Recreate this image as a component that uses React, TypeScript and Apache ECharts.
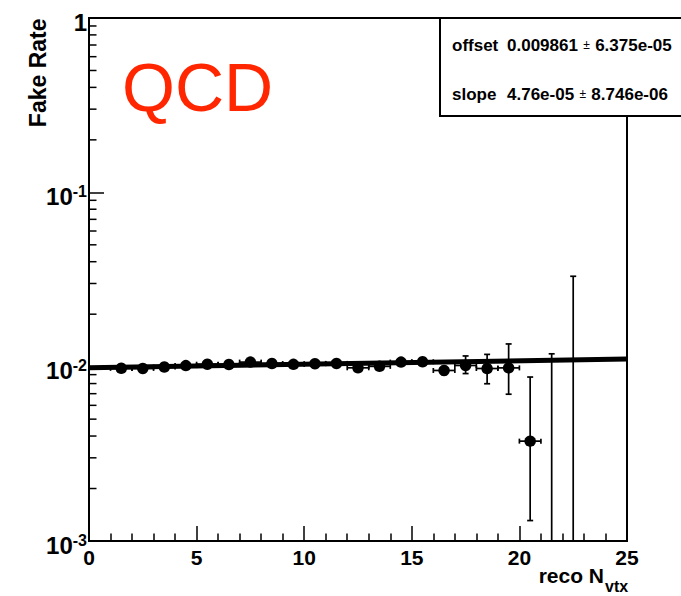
import React, { useEffect, useRef } from "react";
import * as echarts from "echarts";

// ---- data ----
const binCenters = [1.5, 2.5, 3.5, 4.5, 5.5, 6.5, 7.5, 8.5, 9.5, 10.5, 11.5, 12.5, 13.5, 14.5, 15.5, 16.5, 17.5, 18.5, 19.5, 20.5, 21.5, 22.5];
const fakeRate = [0.00978, 0.00977, 0.00995, 0.01014, 0.01033, 0.01028, 0.01062, 0.01042, 0.01031, 0.0104, 0.01044, 0.00985, 0.01004, 0.01062, 0.01067, 0.00951, 0.01016, 0.00976, 0.00984, 0.00374, 0, 0];
const errDown = [0.0002, 0.0002, 0.0002, 0.0002, 0.0002, 0.0002, 0.00025, 0.00025, 0.00025, 0.0003, 0.0003, 0.0003, 0.00035, 0.0004, 0.00045, 0.0005, 0.00103, 0.00178, 0.00289, 0.00243, 0, 0];
const errUp = [0.0002, 0.0002, 0.0002, 0.0002, 0.0002, 0.0002, 0.00025, 0.00025, 0.00025, 0.0003, 0.0003, 0.0003, 0.00035, 0.0004, 0.00045, 0.0005, 0.00136, 0.002, 0.00366, 0.00498, 0.01185, 0.033];
const binHalfWidth = [0.5, 0.5, 0.5, 0.5, 0.5, 0.5, 0.5, 0.5, 0.5, 0.5, 0.5, 0.5, 0.5, 0.5, 0.5, 0.5, 0.5, 0.5, 0.5, 0.5, 0.5, 0.5];

const fitX = [0, 25];
const fitY = [0.009861, 0.011051];

const statNames = ["offset", "slope"];
const statValues = ["0.009861", "4.76e-05"];
const statErrors = ["6.375e-05", "8.746e-06"];

const yDecades = [0.001, 0.01, 0.1];
const yMinorMultipliers = [2, 3, 4, 5, 6, 7, 8, 9];

const FONT = "'Liberation Sans', Arial, Helvetica, sans-serif";

export default function App() {
  const ref = useRef<HTMLDivElement>(null);

  useEffect(() => {
    document.body.style.margin = "0";
    const chart = echarts.init(ref.current!, null, { renderer: "svg" });

    const Y_MIN = 0.001;
    const errData = binCenters.map((x, i) => [
      x,
      fakeRate[i],
      fakeRate[i] - errDown[i],
      fakeRate[i] + errUp[i],
      binHalfWidth[i],
    ]);
    const pointData = binCenters
      .map((x, i) => [x, fakeRate[i]])
      .filter((p) => p[1] > 0);
    const minorData: number[][] = [];
    yDecades.forEach((d) => yMinorMultipliers.forEach((m) => minorData.push([0, d * m])));

    const black = "#000";
    const option: any = {
      animation: false,
      backgroundColor: "#fff",
      textStyle: { fontFamily: FONT },
      grid: {
        left: 89,
        right: 54,
        top: 18,
        bottom: 55,
        show: true,
        borderColor: black,
        borderWidth: 2,
        backgroundColor: "transparent",
      },
      xAxis: {
        type: "value",
        min: 0,
        max: 25,
        interval: 5,
        axisLine: { show: true, onZero: false, lineStyle: { color: black, width: 2 } },
        axisTick: { show: true, inside: true, length: 15, lineStyle: { color: black, width: 1.5 } },
        minorTick: { show: true, splitNumber: 5, length: 7.5, lineStyle: { color: black, width: 1.5 } },
        axisLabel: { margin: 6, fontSize: 21, fontWeight: "bold", color: black, fontFamily: FONT },
        splitLine: { show: false },
        minorSplitLine: { show: false },
      },
      yAxis: {
        type: "log",
        logBase: 10,
        min: 0.001,
        max: 1,
        axisLine: { show: true, onZero: false, lineStyle: { color: black, width: 2 } },
        axisTick: { show: true, inside: true, length: 15, lineStyle: { color: black, width: 1.5 } },
        axisLabel: {
          margin: 2,
          color: black,
          padding: [8, 0, 0, 0],
          formatter: (v: number) => {
            const e = Math.round(Math.log10(v));
            if (e === 0) return "{b|1}";
            return "{b|10}{s|" + e + "}";
          },
          rich: {
            b: { fontSize: 24, fontWeight: "bold", lineHeight: 26, fontFamily: FONT, color: black },
            s: { fontSize: 16, fontWeight: "bold", lineHeight: 16, verticalAlign: "top", fontFamily: FONT, color: black },
          },
        },
        splitLine: { show: false },
      },
      series: [
        {
          type: "custom",
          name: "yMinorTicks",
          silent: true,
          data: minorData,
          z: 5,
          renderItem: (_p: any, api: any) => {
            const pt = api.coord([api.value(0), api.value(1)]);
            return {
              type: "line",
              shape: { x1: pt[0], y1: pt[1], x2: pt[0] + 7.5, y2: pt[1] },
              style: { stroke: black, lineWidth: 1.5 },
            };
          },
        },
        {
          type: "custom",
          name: "errors",
          silent: true,
          data: errData,
          z: 2,
          renderItem: (_p: any, api: any) => {
            const x = api.value(0);
            const y = api.value(1);
            const lo = api.value(2);
            const hi = api.value(3);
            const xe = api.value(4);
            const st = { stroke: black, lineWidth: 1.7 };
            const children: any[] = [];
            const top = api.coord([x, hi]);
            const loClamped = lo > Y_MIN ? lo : Y_MIN;
            const bot = api.coord([x, loClamped]);
            children.push({ type: "line", shape: { x1: top[0], y1: top[1], x2: bot[0], y2: bot[1] }, style: st });
            children.push({ type: "line", shape: { x1: top[0] - 3, y1: top[1], x2: top[0] + 3, y2: top[1] }, style: st });
            if (lo > Y_MIN) {
              children.push({ type: "line", shape: { x1: bot[0] - 3, y1: bot[1], x2: bot[0] + 3, y2: bot[1] }, style: st });
            }
            if (y > 0) {
              const l = api.coord([x - xe, y]);
              const r = api.coord([x + xe, y]);
              children.push({ type: "line", shape: { x1: l[0], y1: l[1], x2: r[0], y2: r[1] }, style: st });
              children.push({ type: "line", shape: { x1: l[0], y1: l[1] - 2.5, x2: l[0], y2: l[1] + 2.5 }, style: st });
              children.push({ type: "line", shape: { x1: r[0], y1: r[1] - 2.5, x2: r[0], y2: r[1] + 2.5 }, style: st });
            }
            return { type: "group", children };
          },
        },
        {
          type: "scatter",
          name: "points",
          data: pointData,
          symbol: "circle",
          symbolSize: 11.5,
          itemStyle: { color: black, opacity: 1 },
          z: 3,
          silent: true,
        },
        {
          type: "line",
          name: "fit",
          data: fitX.map((x, i) => [x, fitY[i]]),
          symbol: "none",
          lineStyle: { color: black, width: 5 },
          z: 4,
          silent: true,
        },
      ],
      graphic: [
        {
          type: "rect",
          z: 100,
          shape: { x: 440, y: 18, width: 260, height: 98 },
          style: { fill: "#fff", stroke: black, lineWidth: 2 },
        },
        ...statNames.map((n, i) => ({
          type: "text",
          z: 101,
          x: 452,
          y: 45 + i * 49,
          style: {
            text: n,
            fontSize: 17,
            fontWeight: "bold",
            fontFamily: FONT,
            fill: black,
            textAlign: "left",
            align: "left",
            textVerticalAlign: "middle",
            verticalAlign: "middle",
          },
        })),
        ...statNames.map((_n, i) => ({
          type: "text",
          z: 101,
          x: 507,
          y: 45 + i * 49,
          style: {
            text: "{v|" + statValues[i] + "} {pm|\u00b1} {v|" + statErrors[i] + "}",
            rich: {
              v: { fontSize: 17, fontWeight: "bold", fontFamily: FONT, fill: black },
              pm: { fontSize: 12, fontWeight: "normal", fontFamily: FONT, fill: black, padding: [0, 2, 0, 2] },
            },
            fill: black,
            textAlign: "left",
            align: "left",
            textVerticalAlign: "middle",
            verticalAlign: "middle",
          },
        })),
        {
          type: "text",
          z: 50,
          x: 122,
          y: 87,
          style: {
            text: "QCD",
            fontSize: 68,
            fontWeight: "normal",
            fontFamily: FONT,
            fill: "#ff2600",
            textAlign: "left",
            align: "left",
            textVerticalAlign: "middle",
            verticalAlign: "middle",
          },
        },
        {
          type: "text",
          z: 50,
          x: 37.5,
          y: 18.5,
          rotation: Math.PI / 2,
          style: {
            text: "Fake Rate",
            fontSize: 23,
            fontWeight: "bold",
            fontFamily: FONT,
            fill: black,
            textAlign: "right",
            align: "right",
            textVerticalAlign: "middle",
            verticalAlign: "middle",
          },
        },
        {
          type: "text",
          z: 50,
          x: 604,
          y: 575,
          style: {
            text: "reco N",
            fontSize: 21,
            fontWeight: "bold",
            fontFamily: FONT,
            fill: black,
            textAlign: "right",
            align: "right",
            textVerticalAlign: "middle",
            verticalAlign: "middle",
          },
        },
        {
          type: "text",
          z: 50,
          x: 605,
          y: 586,
          style: {
            text: "vtx",
            fontSize: 16,
            fontWeight: "bold",
            fontFamily: FONT,
            fill: black,
            textAlign: "left",
            align: "left",
            textVerticalAlign: "middle",
            verticalAlign: "middle",
          },
        },
      ],
    };

    chart.setOption(option);
    return () => chart.dispose();
  }, []);

  return <div ref={ref} style={{ width: 681, height: 596 }} />;
}
